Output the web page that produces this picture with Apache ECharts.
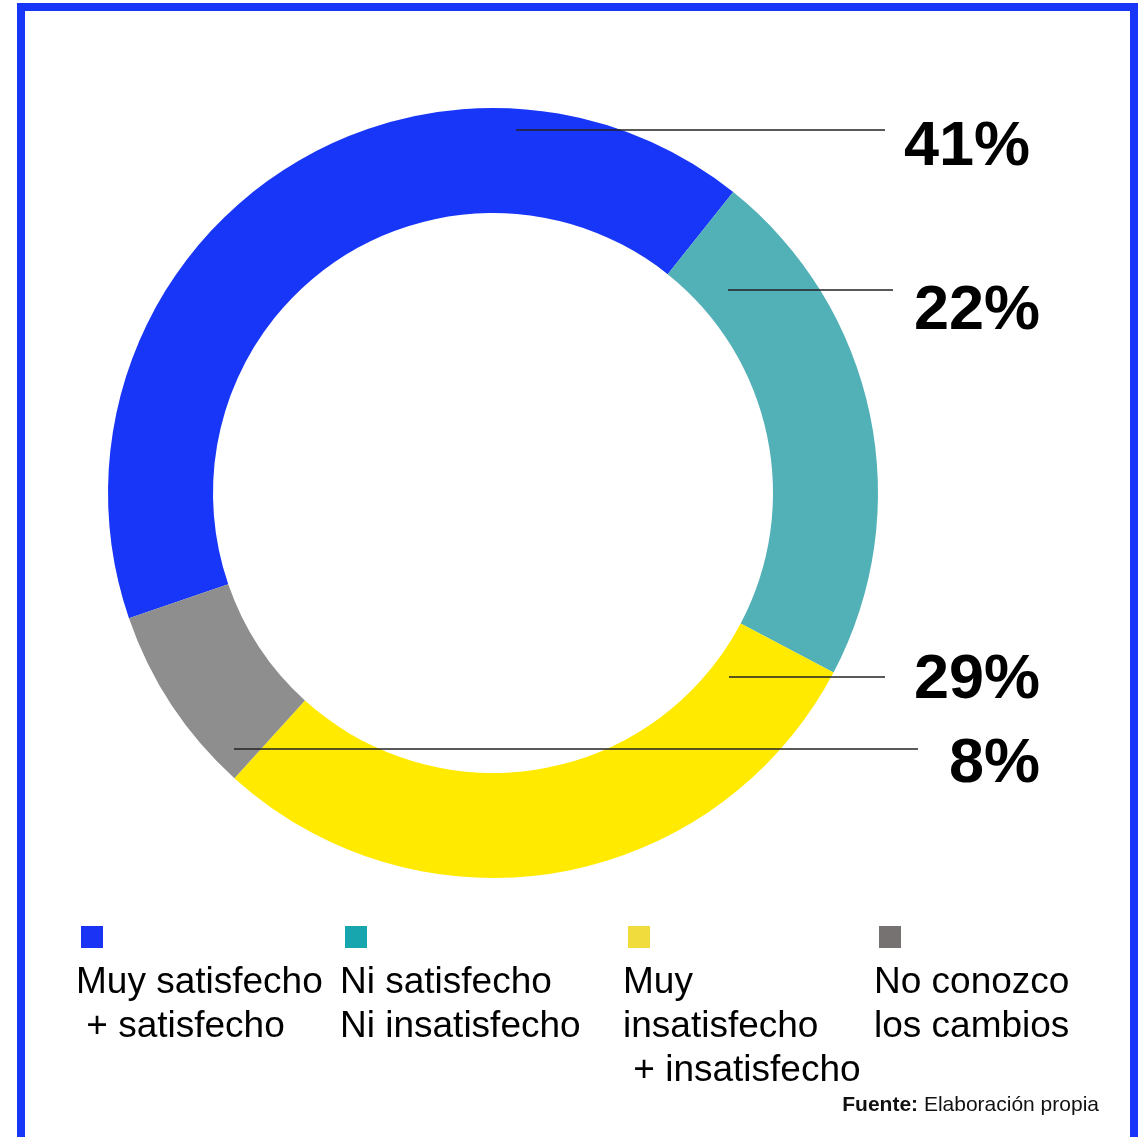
<!DOCTYPE html>
<html>
<head>
<meta charset="utf-8">
<script src="https://cdn.jsdelivr.net/npm/echarts@6/dist/echarts.min.js"></script>
<style>
html,body{margin:0;padding:0;background:#fff;}
#chart{width:1145px;height:1137px;}
</style>
</head>
<body>
<div id="chart"></div>
<script>
// ---- data ----
const categories = ['Muy satisfecho + satisfecho', 'Ni satisfecho Ni insatisfecho', 'Muy insatisfecho + insatisfecho', 'No conozco los cambios'];
const values = [41, 22, 29, 8];
const legendLines = [
  ['Muy satisfecho', ' + satisfecho'],
  ['Ni satisfecho', 'Ni insatisfecho'],
  ['Muy', 'insatisfecho', ' + insatisfecho'],
  ['No conozco', 'los cambios']
];
const sourceBold = 'Fuente:';
const sourceText = 'Elaboración propia';

// ---- styling / layout ----
const sliceColors = ['#1836f7', '#52b0b7', '#ffea00', '#8e8e8e'];
const legendColors = ['#1a33f5', '#17a6ad', '#f0dc3c', '#777272'];
const legendLeft = [71, 335, 618, 869];
const labelRight = [1030, 1040, 1040, 1040];
const labelMidY = [148, 312, 681, 765];
const lineStart = [[516, 130], [728, 290], [729, 677], [234, 749]];
const lineEndX = [885, 893, 885, 918];
const FONT = 'Liberation Sans, Arial, Helvetica, sans-serif';

const chart = echarts.init(document.getElementById('chart'), null, {renderer: 'canvas'});

const legends = categories.map((name, i) => ({
  data: [name],
  left: legendLeft[i],
  top: 926,
  padding: 0,
  itemWidth: 0,
  itemHeight: 0,
  icon: 'rect',
  selectedMode: false,
  formatter: () => '{gap|}{sq|}\n' + legendLines[i].map(l => '{t|' + l + '}').join('\n'),
  textStyle: {
    fontFamily: FONT,
    rich: {
      gap: {width: 5, height: 22, lineHeight: 48},
      sq: {width: 22, height: 22, lineHeight: 48, backgroundColor: legendColors[i]},
      t: {fontSize: 37, lineHeight: 44, color: '#000', fontFamily: FONT}
    }
  }
}));

const pieBase = {
  type: 'pie',
  center: [493, 493],
  radius: [280, 385],
  startAngle: 199,
  clockwise: true,
  silent: true,
  emphasis: {disabled: true}
};

chart.setOption({
  animation: false,
  backgroundColor: '#fff',
  title: {
    text: '{b|' + sourceBold + '} ' + sourceText,
    right: 46,
    top: 1095,
    padding: 0,
    textStyle: {
      fontFamily: FONT,
      fontSize: 21,
      fontWeight: 'normal',
      color: '#111',
      rich: {b: {fontFamily: FONT, fontSize: 21, fontWeight: 'bold', color: '#111'}}
    }
  },
  legend: legends,
  graphic: [{
    type: 'rect',
    shape: {x: 21, y: 7, width: 1113, height: 1200},
    style: {fill: 'none', stroke: '#1836f7', lineWidth: 8},
    silent: true,
    z: 100
  }],
  series: [
    Object.assign({}, pieBase, {
      z: 2,
      data: categories.map((c, i) => ({name: c, value: values[i], itemStyle: {color: sliceColors[i]}})),
      label: {show: false},
      labelLine: {show: false}
    }),
    Object.assign({}, pieBase, {
      z: 5,
      data: categories.map((c, i) => ({name: c, value: values[i], itemStyle: {color: 'rgba(0,0,0,0)'}})),
      label: {
        show: true,
        position: 'outside',
        formatter: '{c}%',
        fontFamily: FONT,
        fontSize: 63,
        fontWeight: 'bold',
        color: '#000'
      },
      labelLine: {show: true, lineStyle: {color: '#222', width: 1.5}},
      labelLayout: function (params) {
        const i = params.dataIndex;
        const s = lineStart[i];
        return {
          x: labelRight[i],
          y: labelMidY[i],
          align: 'right',
          verticalAlign: 'middle',
          labelLinePoints: [s, [lineEndX[i], s[1]], [lineEndX[i], s[1]]]
        };
      }
    })
  ]
});
</script>
</body>
</html>
